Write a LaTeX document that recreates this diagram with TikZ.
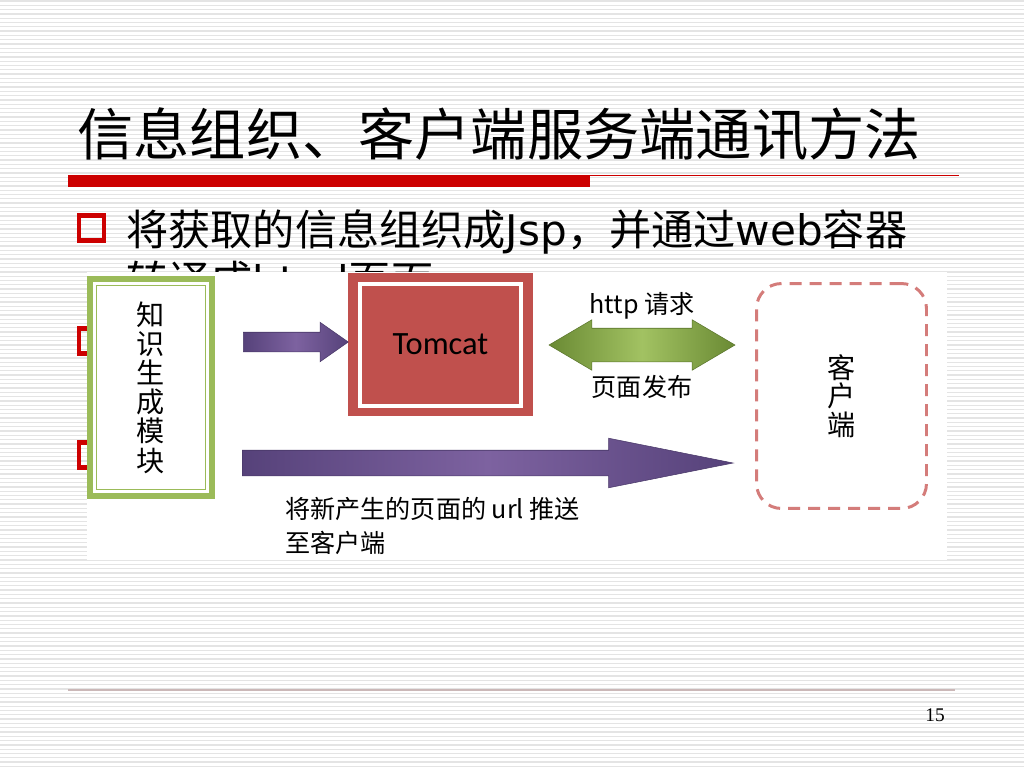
\documentclass[tikz,border=0pt]{standalone}
\usepackage{fontspec}
\setmainfont{Noto Sans CJK SC}
\newfontfamily\latinfont{DejaVu Sans}
\newfontfamily\calfont{Carlito}
\newfontfamily\numfont{Liberation Serif}
\usetikzlibrary{shapes.arrows,positioning}
\definecolor{slidered}{HTML}{CC0000}
\definecolor{boxgreen}{HTML}{9BBB59}
\definecolor{darkgreen}{HTML}{6A8A34}
\definecolor{lightgreen}{HTML}{A2C262}
\definecolor{tomred}{HTML}{C0504D}
\definecolor{purplelight}{HTML}{7D62A0}
\definecolor{purpledark}{HTML}{56427A}
\definecolor{dashred}{HTML}{D47C7A}
\definecolor{stripegray}{HTML}{E4E4E4}
\definecolor{footline}{HTML}{CBB8B8}
\tikzset{
  stripe/.style={stripegray, line width=0.7pt},
  titletext/.style={anchor=base west, inner sep=0pt, font=\fontsize{32pt}{36pt}\selectfont},
  bodytext/.style={anchor=base west, inner sep=0pt, font=\fontsize{24pt}{28pt}\selectfont},
  bulletsq/.style={draw=slidered, line width=2.8pt, minimum size=0.5cm, inner sep=0pt},
  kbox/.style={draw=boxgreen, line width=3.4pt, fill=white, outer sep=0pt,
    minimum width=2.44cm, minimum height=4.34cm, align=center,
    font=\fontsize{16pt}{16.6pt}\selectfont},
  tombox/.style={fill=tomred, outer sep=0pt, minimum width=3.7cm, minimum height=2.86cm,
    font=\calfont\fontsize{18.5pt}{20pt}\selectfont},
  clientbox/.style={draw=dashred, line width=1.7pt, dash pattern=on 0.24cm off 0.16cm,
    rounded corners=0.5cm, minimum width=3.4cm, minimum height=4.5cm, align=center,
    font=\fontsize{16pt}{16.2pt}\selectfont},
  purplearrow/.style={single arrow, inner xsep=0pt, left color=purpledark,
    right color=purpledark, middle color=purplelight, draw=purpledark!85!black, line width=0.3pt},
  greenarrow/.style={double arrow, inner xsep=0pt, left color=darkgreen,
    right color=darkgreen, middle color=lightgreen, draw=darkgreen!85!black, line width=0.3pt},
  smalltext/.style={inner sep=0pt, font=\fontsize{14.3pt}{19.3pt}\selectfont}
}
\begin{document}
\begin{tikzpicture}[x=0.02cm, y=-0.02cm]
\useasboundingbox (0,0) rectangle (1024,768);
\fill[white] (0,0) rectangle (1024,768);
% striped slide background
\foreach \y in {1,5.3,...,768} \draw[stripe] (0,\y) -- (1024,\y);
% title
\node[titletext] (title) at (77,155) {信息组织、客户端服务端通讯方法};
\fill[slidered] (68,175) rectangle (590,187);
\draw[slidered, line width=0.6pt] (590,175.5) -- (959,175.5);
% bullets
\node[bulletsq] (b1) at (91.5,228) {};
\node[bulletsq] (b2) at (91.5,341) {};
\node[bulletsq] (b3) at (91.5,455) {};
\node[bodytext] (line1) at (126,245) {将获取的信息组织成{\latinfont Jsp}，并通过{\latinfont web}容器};
\node[bodytext] (line2) at (126,296) {转译成{\latinfont html}页面};
% pasted picture
\fill[white] (87,272) rectangle (947,560);
\node[kbox] (kgen) at (151,387.5) {知\\识\\生\\成\\模\\块};
\draw[boxgreen, line width=0.8pt] ([shift={(6.5,6.5)}]kgen.north west) rectangle ([shift={(-6.5,-6.5)}]kgen.south east);
\node[tombox] (tomcat) at (440.5,344.5) {Tomcat};
\draw[white, line width=2.3pt] ([shift={(12,11)}]tomcat.north west) rectangle ([shift={(-12,-10)}]tomcat.south east);
\node[purplearrow, single arrow tip angle=70, single arrow head extend=0.2cm,
  inner ysep=0.19cm, minimum height=2.1cm, anchor=tail] (feed) at (243,342) {};
\node[purplearrow, single arrow tip angle=22.5, single arrow head extend=0.24cm,
  inner ysep=0.25cm, minimum height=9.82cm, anchor=tail] (push) at (242,463) {};
\node[greenarrow, double arrow tip angle=61, double arrow head extend=0.17cm,
  inner ysep=0.33cm, minimum height=3.72cm] (http) at (642,345) {};
\node[smalltext, above=0.16cm of http] (req) {http 请求};
\node[smalltext, below=0.26cm of http] (pub) {页面发布};
\node[smalltext, anchor=west, align=left] (pushtxt) at (285,526) {将新产生的页面的 url 推送\\至客户端};
\node[clientbox] (client) at (841.5,396) {客\\户\\端};
% footer
\draw[footline, line width=0.6pt] (68,690) -- (955,690);
\node[font=\numfont\fontsize{11pt}{13pt}\selectfont] (pagenum) at (935,715) {15};
\end{tikzpicture}
\end{document}
